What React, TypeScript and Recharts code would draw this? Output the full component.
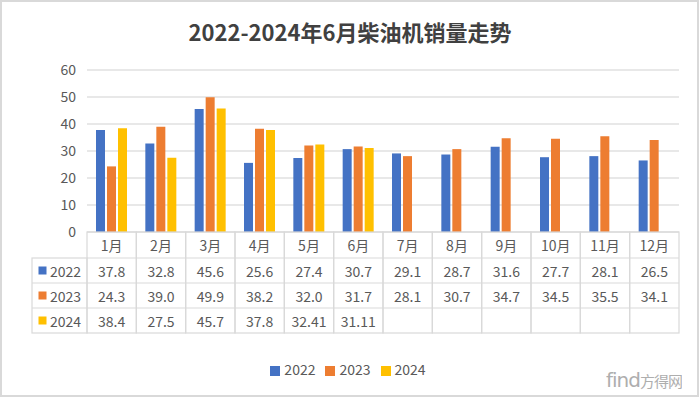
import React from 'react';
import { BarChart, Bar, XAxis, YAxis, CartesianGrid, Legend } from 'recharts';

const months = ['1月', '2月', '3月', '4月', '5月', '6月', '7月', '8月', '9月', '10月', '11月', '12月'];
const sales2022 = [37.8, 32.8, 45.6, 25.6, 27.4, 30.7, 29.1, 28.7, 31.6, 27.7, 28.1, 26.5];
const sales2023 = [24.3, 39.0, 49.9, 38.2, 32.0, 31.7, 28.1, 30.7, 34.7, 34.5, 35.5, 34.1];
const sales2024: (number | null)[] = [38.4, 27.5, 45.7, 37.8, 32.41, 31.11, null, null, null, null, null, null];
const yTicks = [0, 10, 20, 30, 40, 50, 60];
const seriesNames = ['2022', '2023', '2024'];
const seriesColors = ['#4472C4', '#ED7D31', '#FFC000'];
const titleText = '2022-2024年6月柴油机销量走势';

const data = months.map((m, i) => ({
  month: m,
  s2022: sales2022[i],
  s2023: sales2023[i],
  s2024: sales2024[i],
}));

const FONT = '"Noto Sans CJK SC", "Noto Sans", sans-serif';
const TEXT = '#595959';
const BORDER = '#d9d9d9';
const HEAD_H = 26;
const ROW_H = 25;
const TABLE_LEFT = 32;

const fmt = (v: number) => {
  const t = v * 10;
  return Math.abs(t - Math.round(t)) < 1e-9 ? v.toFixed(1) : String(v);
};

function TableTick(props: any) {
  const { x, y, payload } = props;
  const i: number = payload.index;
  const half: number = payload.offset ?? 24.67;
  const left = x - half;
  const w = half * 2;
  const rows = [sales2022, sales2023, sales2024];
  const totalH = HEAD_H + ROW_H * 3;
  return (
    <g fontFamily={FONT} fontSize={14} fill={TEXT}>
      <rect x={left} y={y} width={w} height={totalH} fill="none" stroke={BORDER} strokeWidth={1.2} />
      {[0, 1, 2].map((k) => (
        <line key={k} x1={left} x2={left + w} y1={y + HEAD_H + ROW_H * k} y2={y + HEAD_H + ROW_H * k} stroke={BORDER} strokeWidth={1.2} />
      ))}
      <text x={x} y={y + HEAD_H / 2} textAnchor="middle" dominantBaseline="central" fill={TEXT}>
        {payload.value}
      </text>
      {rows.map((r, k) =>
        r[i] != null ? (
          <text key={k} x={x} y={y + HEAD_H + ROW_H * k + ROW_H / 2} textAnchor="middle" dominantBaseline="central" fill={TEXT}>
            {fmt(r[i] as number)}
          </text>
        ) : null
      )}
      {i === 0 && (
        <g>
          <rect x={TABLE_LEFT} y={y + HEAD_H} width={left - TABLE_LEFT} height={ROW_H * 3} fill="none" stroke={BORDER} strokeWidth={1.2} />
          {seriesNames.map((n, k) => (
            <g key={n}>
              {k > 0 && (
                <line x1={TABLE_LEFT} x2={left} y1={y + HEAD_H + ROW_H * k} y2={y + HEAD_H + ROW_H * k} stroke={BORDER} strokeWidth={1.2} />
              )}
              <rect x={TABLE_LEFT + 6.5} y={y + HEAD_H + ROW_H * k + ROW_H / 2 - 4} width={8} height={8} fill={seriesColors[k]} />
              <text x={TABLE_LEFT + 18} y={y + HEAD_H + ROW_H * k + ROW_H / 2} dominantBaseline="central" fill={TEXT}>
                {n}
              </text>
            </g>
          ))}
        </g>
      )}
    </g>
  );
}

export default function App() {
  return (
    <div style={{ position: 'absolute', left: 0, top: 0, width: 700, height: 398, background: '#fff', fontFamily: FONT }}>
      <div
        style={{
          position: 'absolute',
          left: 0,
          top: 0,
          width: 695,
          height: 393,
          border: `2px solid ${BORDER}`,
        }}
      />
      <div
        style={{
          position: 'absolute',
          left: 0,
          top: 15,
          width: 700,
          textAlign: 'center',
          fontSize: 22,
          fontWeight: 700,
          color: '#404040',
          lineHeight: '32px',
        }}
      >
        {titleText}
      </div>
      <div style={{ position: 'absolute', left: 0, top: 0 }}>
        <BarChart
          width={700}
          height={398}
          data={data}
          margin={{ top: 70, right: 21, left: 37, bottom: 46 }}
          barSize={9}
          barGap={2}
        >
          <CartesianGrid vertical={false} stroke="#e0e0e0" strokeWidth={1.3} />
          <XAxis
            dataKey="month"
            height={100}
            axisLine={false}
            tickLine={false}
            tickSize={0}
            tickMargin={0}
            interval={0}
            tick={<TableTick />}
          />
          <YAxis
            width={50}
            domain={[0, 60]}
            ticks={yTicks}
            axisLine={false}
            tickLine={false}
            tickSize={0}
            tickMargin={11}
            tick={{ fill: TEXT, fontSize: 14, fontFamily: FONT }}
          />
          <Bar dataKey="s2022" name={seriesNames[0]} fill={seriesColors[0]} isAnimationActive={false} />
          <Bar dataKey="s2023" name={seriesNames[1]} fill={seriesColors[1]} isAnimationActive={false} />
          <Bar dataKey="s2024" name={seriesNames[2]} fill={seriesColors[2]} isAnimationActive={false} />
          <Legend
            verticalAlign="bottom"
            align="center"
            iconType="square"
            iconSize={10}
            wrapperStyle={{ top: 359, left: 3, width: 700, fontSize: 14, fontFamily: FONT }}
            formatter={(v: string) => <span style={{ color: TEXT }}>{v}</span>}
          />
        </BarChart>
      </div>
      <div
        style={{
          position: 'absolute',
          left: 606,
          top: 368,
          fontSize: 20,
          color: '#9a9a9a',
          opacity: 0.8,
          whiteSpace: 'nowrap',
          fontFamily: '"DejaVu Sans", sans-serif',
          letterSpacing: -1,
        }}
      >
        find<span style={{ fontSize: 15, fontFamily: FONT }}>方得网</span>
      </div>
    </div>
  );
}
